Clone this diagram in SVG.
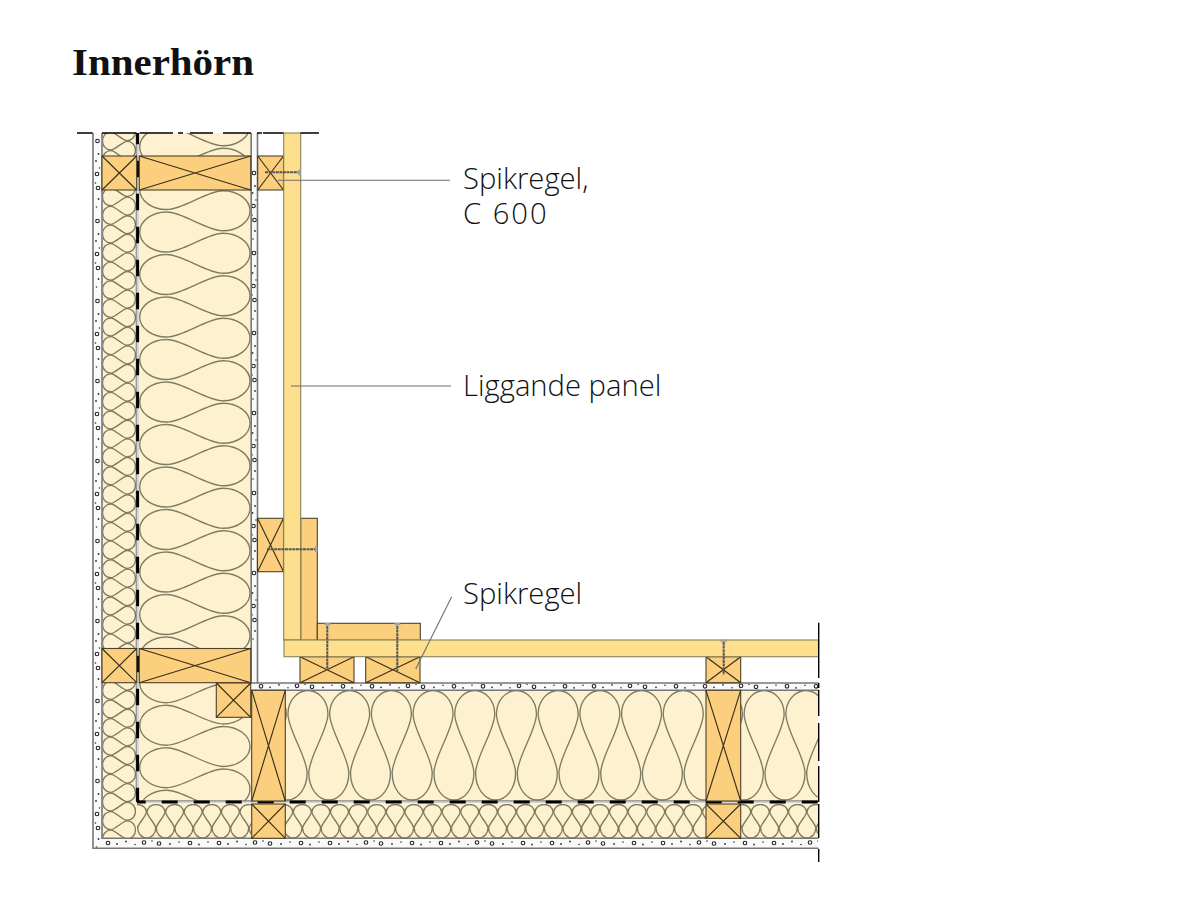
<svg xmlns="http://www.w3.org/2000/svg" xmlns:xlink="http://www.w3.org/1999/xlink" width="1200" height="921" viewBox="0 0 1200 921">
<style>
.t{fill:#fbcf7d;stroke:#4d4228;stroke-width:1.1}
.x{stroke:#3a301c;stroke-width:1.15;fill:none}
.p{fill:#fedf8e;stroke:#8b8258;stroke-width:1.1}
.ins{fill:#fdf1cf}
.w{fill:none;stroke:#7f7b62;stroke-width:1.35}
.b{fill:#fafafa;stroke:none}
.g{stroke:#777;stroke-width:1.6;fill:none}
.c{stroke:#000;stroke-width:1.4;fill:none}
.o{fill:#fff;stroke:#222;stroke-width:1.1}
.d{fill:#333}
.s{stroke:#555;stroke-width:2;stroke-dasharray:3 .6;fill:none}
.h{fill:#a3a3a3}
.l{stroke:#6e6e6e;stroke-width:1.1;fill:none}
.lb{font-family:"Open Sans","Liberation Sans",sans-serif;font-weight:300;font-size:29.2px;fill:#111}
</style>
<defs>
<path id="hT" d="m0,0 c0,-4 -8.7,-12 -8.7,-16 c0,-4 4,-7.5 9,-7.5 c5,0 9,3.5 9,7.5 c0,4 -8.7,12 -8.7,16 c0,5.5 4,10 9,10 c5,0 9,-4.5 9,-10 c0,-4 -8.7,-12 -8.7,-16 c0,-4 4,-7.5 9,-7.5 c5,0 9,3.5 9,7.5 c0,4 -8.7,12 -8.7,16 c0,5.5 4,10 9,10 c5,0 9,-4.5 9,-10 c0,-4 -8.7,-12 -8.7,-16 c0,-4 4,-7.5 9,-7.5 c5,0 9,3.5 9,7.5 c0,4 -8.7,12 -8.7,16 c0,5.5 4,10 9,10 c5,0 9,-4.5 9,-10 c0,-4 -8.7,-12 -8.7,-16 c0,-4 4,-7.5 9,-7.5 c5,0 9,3.5 9,7.5 c0,4 -8.7,12 -8.7,16 c0,5.5 4,10 9,10 c5,0 9,-4.5 9,-10 c0,-4 -8.7,-12 -8.7,-16 c0,-4 4,-7.5 9,-7.5 c5,0 9,3.5 9,7.5 c0,4 -8.7,12 -8.7,16 c0,5.5 4,10 9,10 c5,0 9,-4.5 9,-10" class="w"/>
<path id="vT" d="m0,0 c4,0 12,8.7 16,8.7 c5,0 8.5,-4 8.5,-9 c0,-5 -3.5,-9 -8.5,-9 c-4,0 -12,8.7 -16,8.7 c-5,0 -8.5,-4 -8.5,-9 c0,-5 3.5,-9 8.5,-9 c4,0 12,8.7 16,8.7 c5,0 8.5,-4 8.5,-9 c0,-5 -3.5,-9 -8.5,-9 c-4,0 -12,8.7 -16,8.7 c-5,0 -8.5,-4 -8.5,-9 c0,-5 3.5,-9 8.5,-9 c4,0 12,8.7 16,8.7 c5,0 8.5,-4 8.5,-9 c0,-5 -3.5,-9 -8.5,-9 c-4,0 -12,8.7 -16,8.7 c-5,0 -8.5,-4 -8.5,-9 c0,-5 3.5,-9 8.5,-9 c4,0 12,8.7 16,8.7 c5,0 8.5,-4 8.5,-9 c0,-5 -3.5,-9 -8.5,-9 c-4,0 -12,8.7 -16,8.7 c-5,0 -8.5,-4 -8.5,-9 c0,-5 3.5,-9 8.5,-9 c4,0 12,8.7 16,8.7 c5,0 8.5,-4 8.5,-9 c0,-5 -3.5,-9 -8.5,-9 c-4,0 -12,8.7 -16,8.7 c-5,0 -8.5,-4 -8.5,-9 c0,-5 3.5,-9 8.5,-9" class="w"/>
<path id="vB" d="m0,0 c16,0 40,18.75 56.3,18.75 c15,0 27,-9 27,-20 c0,-11 -12,-20 -27,-20 c-16,0 -40,18.75 -56.3,18.75 c-15,0 -27,-9 -27,-20 c0,-11 12,-20 27,-20" class="w"/>
<path id="hB" d="m0,0 c0,-16 -19.15,-43 -19.15,-59 c0,-13 9,-23.5 20,-23.5 c11,0 20,10.5 20,23.5 c0,16 -19.15,43 -19.15,59 c0,15 9,27 20,27 c11,0 20,-12 20,-27" class="w"/>
<g id="dv">
<circle class="o" cx="0" cy="8" r="1.8"/><circle class="o" cx="-.5" cy="41" r="1.8"/><circle class="o" cx=".5" cy="55" r="1.8"/>
<circle class="d" cx="1" cy="21" r=".9"/><circle class="d" cx="-1.5" cy="28" r=".9"/><circle class="d" cx="2" cy="35" r=".8"/><circle class="d" cx="-2" cy="50" r=".8"/><circle class="d" cx="1" cy="66" r=".9"/><circle class="d" cx="-1" cy="74" r=".8"/>
</g>
<g id="dh">
<circle class="o" cx="6" cy="0" r="1.8"/><circle class="o" cx="42" cy="-.5" r="1.8"/><circle class="o" cx="57" cy=".5" r="1.8"/><circle class="o" cx="88" cy="0" r="1.8"/>
<circle class="d" cx="15" cy="1" r=".9"/><circle class="d" cx="24" cy="-1.5" r=".9"/><circle class="d" cx="33" cy="1.5" r=".8"/><circle class="d" cx="50" cy="-2" r=".8"/><circle class="d" cx="68" cy="1" r=".9"/><circle class="d" cx="77" cy="-1" r=".8"/><circle class="d" cx="97" cy="1.5" r=".9"/><circle class="d" cx="106" cy="-1" r=".8"/>
</g>
<clipPath id="c1"><rect x="139" y="133" width="112" height="516"/></clipPath>
<clipPath id="c2"><rect x="139" y="683" width="112" height="118"/></clipPath>
<clipPath id="c3"><rect x="102.5" y="133" width="33.8" height="516"/></clipPath>
<clipPath id="c4"><rect x="102.5" y="683" width="33.8" height="155"/></clipPath>
<clipPath id="c5"><rect x="137" y="804" width="114" height="34"/></clipPath>
<clipPath id="c6"><rect x="285" y="804" width="421" height="34"/></clipPath>
<clipPath id="c7"><rect x="741" y="804" width="77.5" height="34"/></clipPath>
<clipPath id="c8"><rect x="285" y="690" width="421" height="111"/></clipPath>
<clipPath id="c9"><rect x="741" y="690" width="77.5" height="111"/></clipPath>
<clipPath id="cdv"><rect x="93" y="133" width="165" height="716"/></clipPath>
<clipPath id="cdh"><rect x="93" y="682" width="725" height="167"/></clipPath>
</defs>
<rect width="1200" height="921" fill="#fff"/>
<text id="title" x="72" y="75" font-family="'Liberation Serif',serif" font-weight="700" font-size="37.5px" fill="#111" textLength="182" lengthAdjust="spacingAndGlyphs">Innerhörn</text>

<g id="insulation">
<rect class="ins" x="102" y="133" width="35" height="705"/>
<rect class="ins" x="139" y="133" width="112" height="668"/>
<rect class="ins" x="137" y="804" width="681" height="34"/>
<rect class="ins" x="251" y="690" width="567" height="111"/>
<g clip-path="url(#c1)">
<use href="#vB" x="166.7" y="679.5"/><use href="#vB" x="166.7" y="637"/><use href="#vB" x="166.7" y="594.5"/><use href="#vB" x="166.7" y="552"/><use href="#vB" x="166.7" y="509.5"/><use href="#vB" x="166.7" y="467"/><use href="#vB" x="166.7" y="424.5"/><use href="#vB" x="166.7" y="382"/><use href="#vB" x="166.7" y="339.5"/><use href="#vB" x="166.7" y="297"/><use href="#vB" x="166.7" y="254.5"/><use href="#vB" x="166.7" y="212"/><use href="#vB" x="166.7" y="169.5"/><use href="#vB" x="166.7" y="127"/>
</g>
<g clip-path="url(#c2)">
<use href="#vB" x="166.7" y="832.7"/><use href="#vB" x="166.7" y="790.2"/><use href="#vB" x="166.7" y="747.7"/><use href="#vB" x="166.7" y="705.2"/>
</g>
<g clip-path="url(#c3)">
<use href="#vT" x="111" y="652.8"/><use href="#vT" x="111" y="559.8"/><use href="#vT" x="111" y="466.8"/><use href="#vT" x="111" y="373.8"/><use href="#vT" x="111" y="280.8"/><use href="#vT" x="111" y="187.8"/>
</g>
<g clip-path="url(#c4)">
<use href="#vT" x="111" y="848.8"/><use href="#vT" x="111" y="755.8"/>
</g>
<g clip-path="url(#c5)">
<use href="#hT" x="137.1" y="828"/><use href="#hT" x="230.1" y="828"/>
</g>
<g clip-path="url(#c6)">
<use href="#hT" x="283.4" y="828"/><use href="#hT" x="376.4" y="828"/><use href="#hT" x="469.4" y="828"/><use href="#hT" x="562.4" y="828"/><use href="#hT" x="655.4" y="828"/>
</g>
<g clip-path="url(#c7)">
<use href="#hT" x="741.4" y="828"/>
</g>
<g clip-path="url(#c8)">
<use href="#hB" x="265.4" y="773"/><use href="#hB" x="307.1" y="773"/><use href="#hB" x="348.8" y="773"/><use href="#hB" x="390.5" y="773"/><use href="#hB" x="432.2" y="773"/><use href="#hB" x="473.9" y="773"/><use href="#hB" x="515.6" y="773"/><use href="#hB" x="557.3" y="773"/><use href="#hB" x="599" y="773"/><use href="#hB" x="640.7" y="773"/><use href="#hB" x="682.4" y="773"/>
</g>
<g clip-path="url(#c9)">
<use href="#hB" x="721.6" y="773"/><use href="#hB" x="763.3" y="773"/><use href="#hB" x="805" y="773"/>
</g>
</g>

<g id="boards">
<rect class="b" x="93" y="133" width="9" height="715"/>
<rect class="b" x="93" y="838" width="725" height="10"/>
<rect class="b" x="251" y="133" width="6.5" height="550"/>
<rect class="b" x="251" y="683" width="567" height="7"/>
<g clip-path="url(#cdv)">
<use href="#dv" x="97.5" y="133"/><use href="#dv" x="97.5" y="213"/><use href="#dv" x="97.5" y="293"/><use href="#dv" x="97.5" y="373"/><use href="#dv" x="97.5" y="453"/><use href="#dv" x="97.5" y="533"/><use href="#dv" x="97.5" y="613"/><use href="#dv" x="97.5" y="693"/><use href="#dv" x="97.5" y="773"/>
<use href="#dv" x="254" y="165"/><use href="#dv" x="254" y="245"/><use href="#dv" x="254" y="325"/><use href="#dv" x="254" y="405"/><use href="#dv" x="254" y="485"/><use href="#dv" x="254" y="565"/>
</g>
<g clip-path="url(#cdh)">
<use href="#dh" x="255" y="686.3"/><use href="#dh" x="366" y="686.3"/><use href="#dh" x="477" y="686.3"/><use href="#dh" x="588" y="686.3"/><use href="#dh" x="699" y="686.3"/><use href="#dh" x="810" y="686.3"/>
<use href="#dh" x="102" y="843"/><use href="#dh" x="213" y="843"/><use href="#dh" x="324" y="843"/><use href="#dh" x="435" y="843"/><use href="#dh" x="546" y="843"/><use href="#dh" x="657" y="843"/><use href="#dh" x="768" y="843"/>
</g>
<path class="g" d="M93,133V848.3H818.5M102,133V838.2H818.5M251.2,133V683H818.5M257.5,133V683M251.2,690.2H818.5"/>
</g>

<g id="vapour-barrier">
<path d="M137.6,133V802H818" fill="none" stroke="#d4d4d4" stroke-width="2.6"/>
<path d="M136.2,133V800.8H818" fill="none" stroke="#555" stroke-width=".7"/>
<line x1="137.6" y1="133" x2="137.6" y2="802" stroke="#000" stroke-width="3" stroke-dasharray="16.5 16.5" stroke-dashoffset="5.3"/>
<line x1="137" y1="802" x2="818" y2="802" stroke="#000" stroke-width="3" stroke-dasharray="16 16" stroke-dashoffset="7.3"/>
</g>

<g id="timber">
<g id="stud-top-outer"><rect class="t" x="102" y="156" width="34.7" height="34"/><path class="x" d="M102,156L136.7,190M136.7,156L102,190"/></g>
<g id="stud-top-inner"><rect class="t" x="139.3" y="156" width="111.4" height="34"/><path class="x" d="M139.3,156L250.7,190M250.7,156L139.3,190"/></g>
<g id="stud-bottom-outer"><rect class="t" x="102" y="648.5" width="34.7" height="34.2"/><path class="x" d="M102,648.5L136.7,682.7M136.7,648.5L102,682.7"/></g>
<g id="stud-bottom-inner"><rect class="t" x="139.3" y="648.5" width="111.4" height="34.2"/><path class="x" d="M139.3,648.5L250.7,682.7M250.7,648.5L139.3,682.7"/></g>
<g id="corner-block"><rect class="t" x="216.3" y="683" width="34.4" height="34.3"/><path class="x" d="M216.3,683L250.7,717.3M250.7,683L216.3,717.3"/></g>
<g id="stud-h1"><rect class="t" x="251.7" y="690.3" width="33.6" height="110.7"/><path class="x" d="M251.7,690.3L285.3,801M285.3,690.3L251.7,801"/></g>
<g id="block-h1"><rect class="t" x="251.7" y="804" width="33.6" height="34.3"/><path class="x" d="M251.7,804L285.3,838.3M285.3,804L251.7,838.3"/></g>
<g id="stud-h2"><rect class="t" x="706" y="690.3" width="34.7" height="110.7"/><path class="x" d="M706,690.3L740.7,801M740.7,690.3L706,801"/></g>
<g id="block-h2"><rect class="t" x="706" y="804" width="34.7" height="34.3"/><path class="x" d="M706,804L740.7,838.3M740.7,804L706,838.3"/></g>
<g id="spikregel-1"><rect class="t" x="257.7" y="156" width="25.8" height="34"/><path class="x" d="M257.7,156L283.5,190M283.5,156L257.7,190"/></g>
<g id="spikregel-2"><rect class="t" x="257.5" y="518.3" width="26" height="53.4"/><path class="x" d="M257.5,518.3L283.5,571.7M283.5,518.3L257.5,571.7"/></g>
<rect id="batten-v" class="t" x="300.7" y="518.3" width="16.6" height="122"/>
<rect id="batten-h" class="t" x="317.3" y="623.3" width="103" height="17"/>
<g id="spikregel-3"><rect class="t" x="300" y="656.7" width="54" height="26"/><path class="x" d="M300,656.7L354,682.7M354,656.7L300,682.7"/></g>
<g id="spikregel-4"><rect class="t" x="365.7" y="656.7" width="54.3" height="26"/><path class="x" d="M365.7,656.7L420,682.7M420,656.7L365.7,682.7"/></g>
<g id="spikregel-5"><rect class="t" x="706" y="656.7" width="34.7" height="26"/><path class="x" d="M706,656.7L740.7,682.7M740.7,656.7L706,682.7"/></g>
</g>

<g id="panel">
<rect class="p" x="283.7" y="133" width="17" height="507"/>
<rect class="p" x="284" y="640" width="534.5" height="16.7"/>
</g>

<g id="screws">
<path class="s" d="M265,172.3H298M267,549.3H315M327.3,626V670M397.3,626V671.7M723.7,642V675"/>
<rect class="h" x="298" y="169.5" width="2.5" height="6" rx="1"/>
<rect class="h" x="315" y="546" width="2.5" height="6.5" rx="1"/>
<rect class="h" x="324.5" y="623" width="6" height="2.6" rx="1"/>
<rect class="h" x="394.5" y="623" width="6" height="2.6" rx="1"/>
<rect class="h" x="720.7" y="639.6" width="6" height="2.6" rx="1"/>
</g>

<g id="section-lines">
<path class="c" d="M77,133H92.7M102,133H136.5M139.5,133H173M178,133H183M190,133H213M223,133H251M257,133H262M263,133H283.5M300.5,133H319"/>
<path class="c" d="M818.7,622.7V678M818.7,683V688M818.7,690V716M818.7,723V761M818.7,766V802M818.7,804V838M818.7,849V862"/>
</g>

<g id="connectors">
<path class="l" d="M278,180.3H450"/>
<path class="l" d="M291,386H451"/>
<path class="l" d="M451.7,596.7L415.7,669" stroke="#444"/>
</g>

<g id="labels">
<text class="lb" x="463" y="189">Spikregel,<tspan x="463" y="224" letter-spacing="2">C 600</tspan></text>
<text class="lb" x="463" y="396">Liggande panel</text>
<text class="lb" x="463" y="604">Spikregel</text>
</g>
</svg>
